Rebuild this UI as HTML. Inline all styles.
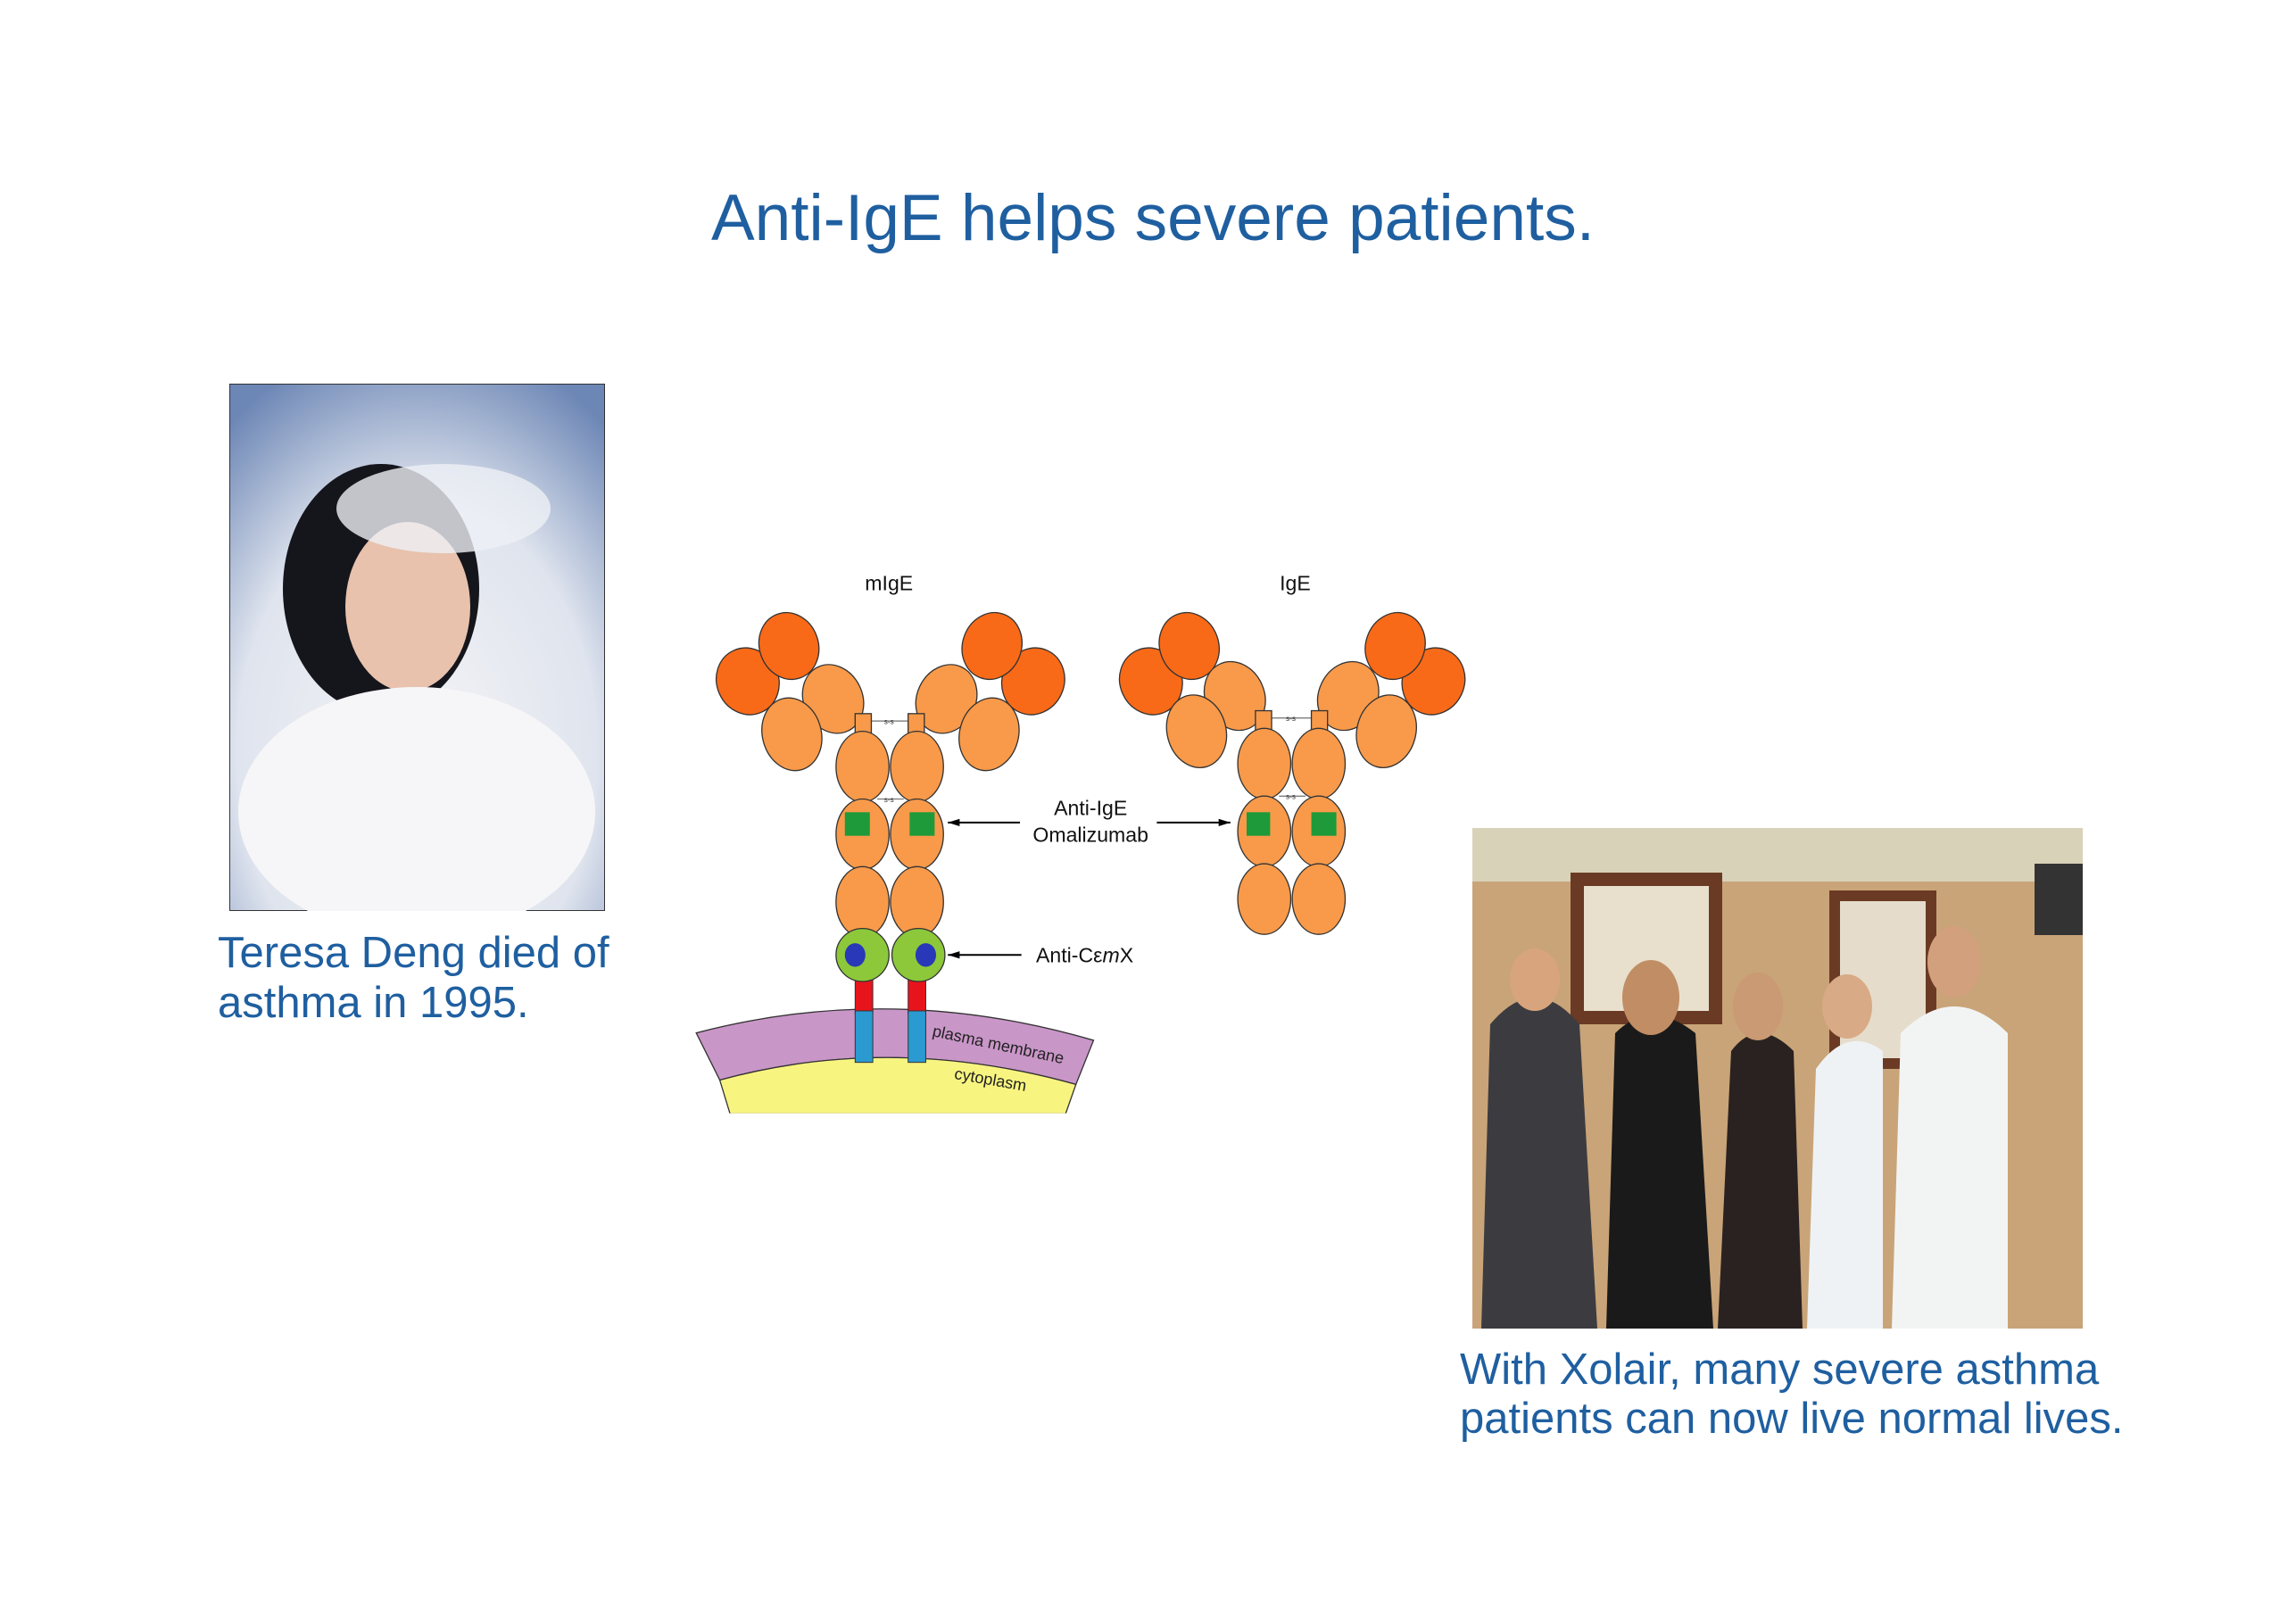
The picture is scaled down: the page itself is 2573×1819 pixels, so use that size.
<!DOCTYPE html>
<html><head><meta charset="utf-8"><style>
body{margin:0;width:2573px;height:1819px;background:#fff;position:relative;overflow:hidden;font-family:"Liberation Sans",sans-serif}
.t{position:absolute;color:#1f5fa0;white-space:nowrap}
</style></head><body>
<div class="t" style="left:-8px;width:2600px;text-align:center;top:203px;font-size:73px;">Anti-IgE helps severe patients.</div>

<svg style="position:absolute;left:257px;top:430px" width="421" height="591" viewBox="0 0 421 591">
<defs><radialGradient id="g1" cx="0.5" cy="0.7" r="0.8"><stop offset="0" stop-color="#f4f4f6"/><stop offset="0.6" stop-color="#dfe4ee"/><stop offset="1" stop-color="#6c86b5"/></radialGradient></defs>
<rect width="421" height="591" fill="url(#g1)" stroke="#333" stroke-width="2"/>
<ellipse cx="170" cy="230" rx="110" ry="140" fill="#15151c"/>
<ellipse cx="200" cy="250" rx="70" ry="95" fill="#e8c2ad"/>
<ellipse cx="240" cy="140" rx="120" ry="50" fill="#eef0f5" opacity="0.8"/>
<ellipse cx="210" cy="480" rx="200" ry="140" fill="#f6f6f8"/>
</svg>
<div class="t" style="left:244px;top:1040px;font-size:49px;line-height:56px;">Teresa Deng died of<br>asthma in 1995.</div>

<svg style="position:absolute;left:1650px;top:928px" width="684" height="561" viewBox="0 0 684 561">
<rect width="684" height="561" fill="#c9a478"/>
<rect width="684" height="60" fill="#d8d2b8"/>
<rect x="110" y="50" width="170" height="170" fill="#6b3a24"/><rect x="125" y="65" width="140" height="140" fill="#e8e0cc"/>
<rect x="400" y="70" width="120" height="200" fill="#6b3a24"/><rect x="412" y="82" width="96" height="176" fill="#e6dccb"/>
<rect x="630" y="40" width="54" height="80" fill="#333"/>
<path d="M10 561 L20 220 Q70 160 120 220 L140 561Z" fill="#3c3c40"/>
<ellipse cx="70" cy="170" rx="28" ry="35" fill="#d8a47e"/>
<path d="M150 561 L160 230 Q200 190 250 230 L270 561Z" fill="#1a1a1a"/>
<ellipse cx="200" cy="190" rx="32" ry="42" fill="#c18d64"/>
<path d="M275 561 L290 250 Q320 210 360 250 L370 561Z" fill="#2a2220"/>
<ellipse cx="320" cy="200" rx="28" ry="38" fill="#c99a73"/>
<path d="M375 561 L385 270 Q420 220 460 250 L460 561Z" fill="#eef2f4"/>
<ellipse cx="420" cy="200" rx="28" ry="36" fill="#d8aa85"/>
<path d="M470 561 L480 230 Q540 170 600 230 L600 561Z" fill="#f2f4f4"/>
<ellipse cx="540" cy="150" rx="30" ry="40" fill="#d2a07c"/>
</svg>
<div class="t" style="left:1636px;top:1508px;font-size:49px;line-height:55px;">With Xolair, many severe asthma<br>patients can now live normal lives.</div>

<svg style="position:absolute;left:0;top:0" width="2573" height="1819" viewBox="0 0 1560 1103" font-family="Liberation Sans, sans-serif">
<defs><marker id="ar" markerWidth="8" markerHeight="5" refX="8" refY="2.5" orient="auto" markerUnits="userSpaceOnUse" viewBox="0 0 8 5"><path d="M0,0 L8,2.5 L0,5z" fill="#000"/></marker></defs>
<g transform="translate(-4,-3)">
<g stroke="#333" stroke-width="0.8">
<path d="M477 705 Q610 670 747 710 L735 740 Q610 705 493 737Z" fill="#c996c8"/>
<path d="M493 737 Q610 705 735 740 L728 760 L500 760Z" fill="#f8f480"/>
</g>
<rect x="480" y="759.6" width="270" height="10" fill="#fff"/>
<g stroke="#333" stroke-width="0.6">
<rect x="585" y="666" width="12" height="26" fill="#e8141c"/><rect x="621" y="666" width="12" height="26" fill="#e8141c"/>
<rect x="585" y="690" width="12" height="35" fill="#2a9ad0"/><rect x="621" y="690" width="12" height="35" fill="#2a9ad0"/>
</g>
<text x="637" y="707" font-size="11" fill="#222" transform="rotate(12 637 707)">plasma membrane</text>
<text x="652" y="736" font-size="11" fill="#222" transform="rotate(10 652 736)">cytoplasm</text>
<g stroke="#333" stroke-width="0.8">
<ellipse cx="512" cy="466" rx="21" ry="23" transform="rotate(-25 512 466)" fill="#f96a18"/>
<ellipse cx="540" cy="442" rx="20" ry="23" transform="rotate(-20 540 442)" fill="#f96a18"/>
<ellipse cx="570" cy="478" rx="20" ry="24" transform="rotate(-25 570 478)" fill="#f89a4a"/>
<ellipse cx="542" cy="502" rx="20" ry="25" transform="rotate(-15 542 502)" fill="#f89a4a"/>
<ellipse cx="706" cy="466" rx="21" ry="23" transform="rotate(25 706 466)" fill="#f96a18"/>
<ellipse cx="678" cy="442" rx="20" ry="23" transform="rotate(20 678 442)" fill="#f96a18"/>
<ellipse cx="647" cy="478" rx="20" ry="24" transform="rotate(25 647 478)" fill="#f89a4a"/>
<ellipse cx="676" cy="502" rx="20" ry="25" transform="rotate(15 676 502)" fill="#f89a4a"/>
<rect x="585" y="488" width="11" height="16" fill="#f89a4a"/><rect x="621" y="488" width="11" height="16" fill="#f89a4a"/>
<line x1="596" y1="493" x2="621" y2="493" stroke-width="0.5"/>
<ellipse cx="590" cy="524" rx="18" ry="24" fill="#f89a4a"/><ellipse cx="627" cy="524" rx="18" ry="24" fill="#f89a4a"/>
<ellipse cx="590" cy="570" rx="18" ry="24" fill="#f89a4a"/><ellipse cx="627" cy="570" rx="18" ry="24" fill="#f89a4a"/>
<ellipse cx="590" cy="616" rx="18" ry="24" fill="#f89a4a"/><ellipse cx="627" cy="616" rx="18" ry="24" fill="#f89a4a"/>
<line x1="600" y1="546" x2="618" y2="546" stroke-width="0.5"/>
<rect x="578" y="555" width="17" height="16" fill="#1e9a3a" stroke="none"/><rect x="622" y="555" width="17" height="16" fill="#1e9a3a" stroke="none"/>

<ellipse cx="786" cy="466" rx="21" ry="23" transform="rotate(-25 786 466)" fill="#f96a18"/>
<ellipse cx="812" cy="442" rx="20" ry="23" transform="rotate(-20 812 442)" fill="#f96a18"/>
<ellipse cx="843" cy="476" rx="20" ry="24" transform="rotate(-25 843 476)" fill="#f89a4a"/>
<ellipse cx="817" cy="500" rx="20" ry="25" transform="rotate(-15 817 500)" fill="#f89a4a"/>
<ellipse cx="978" cy="466" rx="21" ry="23" transform="rotate(25 978 466)" fill="#f96a18"/>
<ellipse cx="952" cy="442" rx="20" ry="23" transform="rotate(20 952 442)" fill="#f96a18"/>
<ellipse cx="920" cy="476" rx="20" ry="24" transform="rotate(25 920 476)" fill="#f89a4a"/>
<ellipse cx="946" cy="500" rx="20" ry="25" transform="rotate(15 946 500)" fill="#f89a4a"/>
<rect x="857" y="486" width="11" height="16" fill="#f89a4a"/><rect x="895" y="486" width="11" height="16" fill="#f89a4a"/>
<line x1="868" y1="491" x2="895" y2="491" stroke-width="0.5"/>
<ellipse cx="863" cy="522" rx="18" ry="24" fill="#f89a4a"/><ellipse cx="900" cy="522" rx="18" ry="24" fill="#f89a4a"/>
<ellipse cx="863" cy="568" rx="18" ry="24" fill="#f89a4a"/><ellipse cx="900" cy="568" rx="18" ry="24" fill="#f89a4a"/>
<ellipse cx="863" cy="614" rx="18" ry="24" fill="#f89a4a"/><ellipse cx="900" cy="614" rx="18" ry="24" fill="#f89a4a"/>
<line x1="873" y1="544" x2="891" y2="544" stroke-width="0.5"/>
<rect x="851" y="555" width="16" height="16" fill="#1e9a3a" stroke="none"/><rect x="895" y="555" width="17" height="16" fill="#1e9a3a" stroke="none"/>

<circle cx="590" cy="652" r="18" fill="#8cc83a"/><circle cx="628" cy="652" r="18" fill="#8cc83a"/>
<ellipse cx="585" cy="652" rx="7" ry="8" fill="#2838b8" stroke="none"/><ellipse cx="633" cy="652" rx="7" ry="8" fill="#2838b8" stroke="none"/>
</g>
<g font-size="5" fill="#333" text-anchor="middle"><text x="608" y="495">s-s</text><text x="608" y="548">s-s</text><text x="881" y="493">s-s</text><text x="881" y="546">s-s</text></g>
<g stroke="#000" stroke-width="1.2" marker-end="url(#ar)">
<line x1="697" y1="562" x2="648" y2="562"/><line x1="790" y1="562" x2="840" y2="562"/><line x1="698" y1="652" x2="648" y2="652"/>
</g>
<g font-size="14" fill="#111" text-anchor="middle">
<text x="608" y="404">mIgE</text><text x="884" y="404">IgE</text>
<text x="745" y="557">Anti-IgE</text><text x="745" y="575">Omalizumab</text>
<text x="741" y="657">Anti-Cε<tspan font-style="italic">m</tspan>X</text>
</g>
</g>
</svg>
</body></html>
